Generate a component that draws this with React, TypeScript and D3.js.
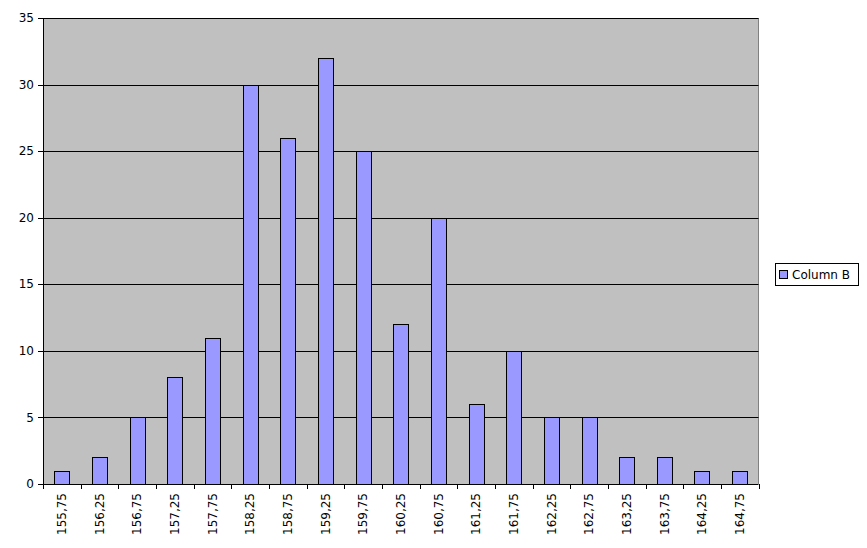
import * as d3 from "d3";

const categories = [
  "155,75", "156,25", "156,75", "157,25", "157,75", "158,25", "158,75",
  "159,25", "159,75", "160,25", "160,75", "161,25", "161,75", "162,25",
  "162,75", "163,25", "163,75", "164,25", "164,75",
];
const columnB = [1, 2, 5, 8, 11, 30, 26, 32, 25, 12, 20, 6, 10, 5, 5, 2, 2, 1, 1];
const yTicks = [0, 5, 10, 15, 20, 25, 30, 35];
const seriesName = "Column B";

const W = 867;
const H = 548;
const left = 43;
const right = 758.5;
const top = 18;
const bottom = 484;
const font = "DejaVu Sans, sans-serif";

export default function App() {
  const x = d3.scaleBand<string>().domain(categories).range([left, right]).paddingInner(0).paddingOuter(0);
  const y = d3.scaleLinear().domain([0, 35]).range([bottom, top]);
  const bw = x.bandwidth() * 0.4;

  return (
    <svg
      width={W}
      height={H}
      style={{ position: "absolute", left: 0, top: 0, background: "#fff" }}
      fontFamily={font}
    >
      <rect x={left} y={top} width={right - left} height={bottom - top} fill="#c0c0c0" />
      <line x1={right} x2={right} y1={top} y2={bottom} stroke="#808080" />
      {yTicks.map((t) => (
        <g key={t}>
          <line x1={left - 5} x2={right} y1={Math.round(y(t)) + 0.5} y2={Math.round(y(t)) + 0.5} stroke="#000" />
          <text x={left - 9} y={y(t)} dy="0.35em" textAnchor="end" fontSize={12} fill="#000">
            {t}
          </text>
        </g>
      ))}
      {columnB.map((v, i) => {
        const c = categories[i];
        const cx = (x(c) as number) + x.bandwidth() / 2;
        return (
          <rect
            key={c}
            x={Math.round(cx - bw / 2) + 0.5}
            y={Math.round(y(v)) + 0.5}
            width={Math.round(bw)}
            height={Math.round(y(0)) - Math.round(y(v))}
            fill="#9999ff"
            stroke="#000"
          />
        );
      })}
      <line x1={Math.round(left) + 0.5} x2={Math.round(left) + 0.5} y1={top} y2={bottom} stroke="#000" />
      {categories.concat(["end"]).map((c, i) => {
        const tx = Math.round(left + i * x.bandwidth()) + 0.5;
        return <line key={"t" + i} x1={tx} x2={tx} y1={bottom} y2={bottom + 5} stroke="#000" />;
      })}
      {categories.map((c) => {
        const cx = (x(c) as number) + x.bandwidth() / 2;
        return (
          <text
            key={"l" + c}
            transform={`translate(${cx},${bottom + 9}) rotate(-90)`}
            textAnchor="end"
            dy="0.35em"
            fontSize={12}
            fill="#000"
          >
            {c}
          </text>
        );
      })}
      <g>
        <rect x={775.5} y={263.5} width={83} height={22} fill="#fff" stroke="#000" />
        <rect x={779.5} y={270.5} width={8} height={8} fill="#9999ff" stroke="#000" />
        <text x={792} y={274.5} dy="0.35em" fontSize={12} fill="#000">
          {seriesName}
        </text>
      </g>
    </svg>
  );
}
